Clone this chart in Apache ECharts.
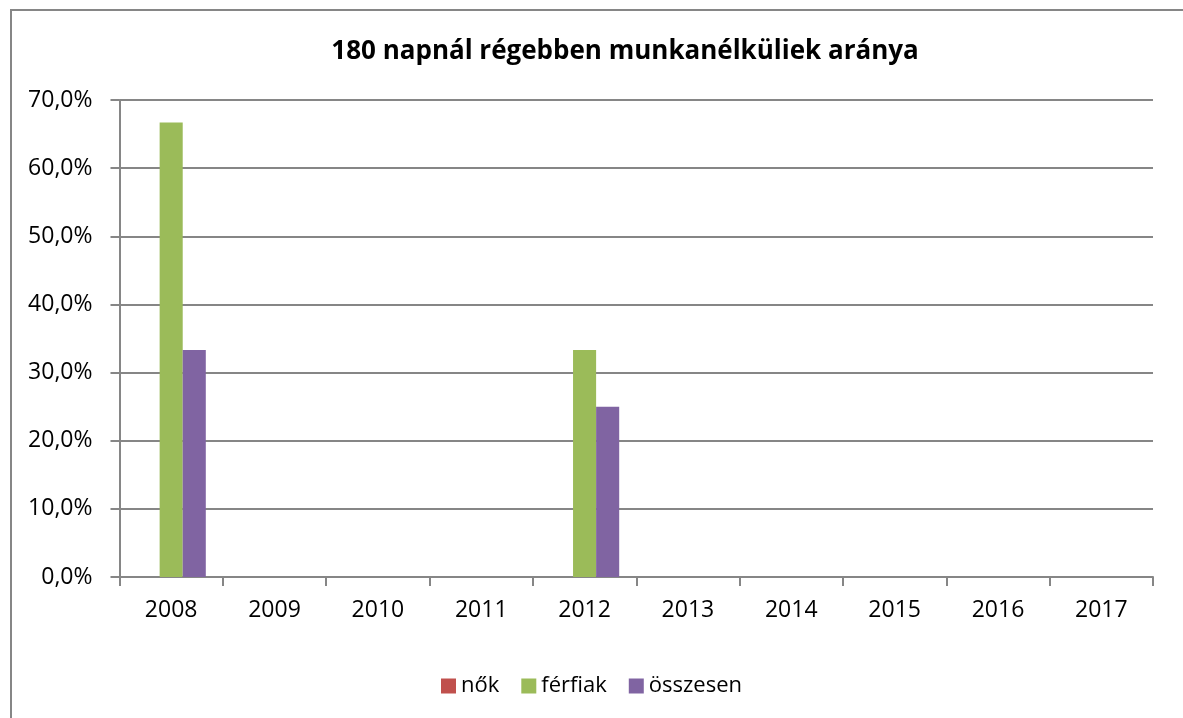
<!DOCTYPE html>
<html>
<head>
<meta charset="utf-8">
<script src="https://cdn.jsdelivr.net/npm/echarts@6/dist/echarts.min.js"></script>
<style>html,body{margin:0;padding:0;background:#fff}#c{width:1183px;height:718px}</style>
</head>
<body>
<div id="c"></div>
<script>
const titleText = '180 napnál régebben munkanélküliek aránya';
const categories = ['2008','2009','2010','2011','2012','2013','2014','2015','2016','2017'];
const nok = [0,0,0,0,0,0,0,0,0,0];
const ferfiak = [66.7,0,0,0,33.3,0,0,0,0,0];
const osszesen = [33.3,0,0,0,25.0,0,0,0,0,0];
const seriesNames = ['nők','férfiak','összesen'];
const colors = ['#C0504D','#9BBB59','#8064A2'];

const FONT = 'Open Sans';
const chart = echarts.init(document.getElementById('c'), null, {renderer:'canvas'});
const mk = (name, data, color) => ({
  name, type:'bar', data, barGap:'0%', barCategoryGap:'33%',
  itemStyle:{color}, emphasis:{disabled:true}
});
chart.setOption({
  animation:false,
  backgroundColor:'#fff',
  color: colors,
  textStyle:{fontFamily:FONT},
  graphic:[{type:'rect', shape:{x:11,y:10,width:1200,height:800}, style:{fill:'none', stroke:'#868686', lineWidth:2}, silent:true}],
  title:{text:titleText, left:620, top:34, textAlign:'center',
    textStyle:{fontFamily:FONT, fontWeight:'bold', fontSize:26, color:'#000'}},
  legend:{data:seriesNames, bottom:16, left:'center', itemWidth:15, itemHeight:15, itemGap:22,
    icon:'rect', textStyle:{fontFamily:FONT, fontSize:22, color:'#000'}},
  grid:{left:119.5, right:30, top:100, bottom:141, containLabel:false},
  xAxis:{type:'category', data:categories,
    axisLine:{lineStyle:{color:'#868686', width:2}},
    axisTick:{show:true, length:9, lineStyle:{color:'#868686', width:2}},
    axisLabel:{fontFamily:FONT, fontSize:23, color:'#000', margin:22}},
  yAxis:{type:'value', min:0, max:70, interval:10,
    axisLine:{show:true, lineStyle:{color:'#868686', width:2}},
    axisTick:{show:true, length:9, lineStyle:{color:'#868686', width:2}},
    splitLine:{lineStyle:{color:'#868686', width:2}},
    axisLabel:{fontFamily:FONT, fontSize:23, color:'#000', margin:27,
      formatter:v=>v.toFixed(1).replace('.',',')+'%'}},
  series:[mk(seriesNames[0],nok,colors[0]), mk(seriesNames[1],ferfiak,colors[1]), mk(seriesNames[2],osszesen,colors[2])]
});
</script>
</body>
</html>
